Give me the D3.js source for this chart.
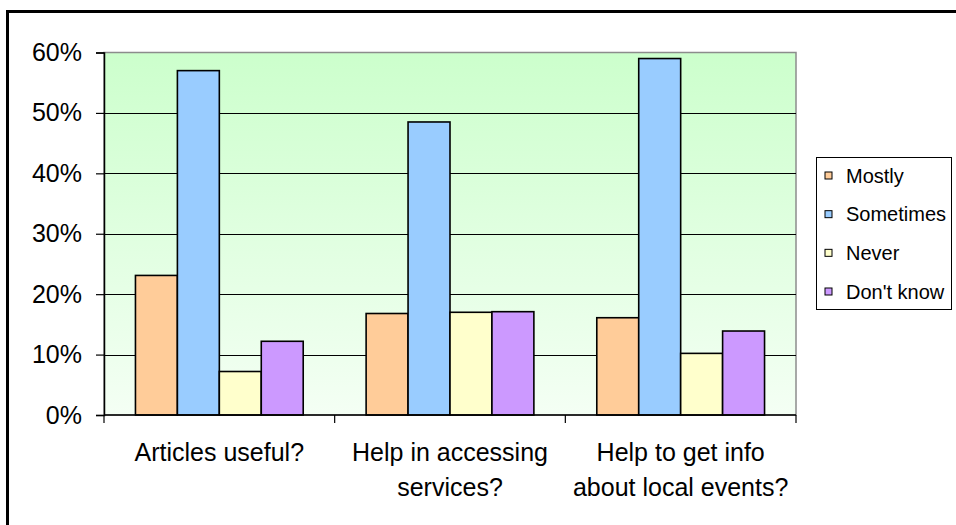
<!DOCTYPE html>
<html>
<head>
<meta charset="utf-8">
<script src="https://cdn.jsdelivr.net/npm/d3@7/dist/d3.min.js"></script>
<style>
  html, body { margin: 0; padding: 0; background: #ffffff; }
  svg { display: block; font-family: "Liberation Sans", Arial, sans-serif; }
</style>
</head>
<body>
<svg id="chart" width="956" height="525"></svg>
<script>
// Survey questions (category axis) and response options (series)
const questions = [
  ["Articles useful?"],
  ["Help in accessing", "services?"],
  ["Help to get info", "about local events?"]
];
const responses = ["Mostly", "Sometimes", "Never", "Don't know"];

// Share of respondents per response, one array per series (in question order)
const mostly    = [0.231, 0.168, 0.161];
const sometimes = [0.570, 0.485, 0.590];
const never     = [0.072, 0.170, 0.102];
const dontKnow  = [0.122, 0.171, 0.139];

const yTicks = [0, 0.1, 0.2, 0.3, 0.4, 0.5, 0.6];
const seriesColors = ["#ffcc99", "#99ccff", "#ffffcc", "#cc99ff"];

const seriesValues = [mostly, sometimes, never, dontKnow];

const svg = d3.select("#chart");

// Outer chart frame
svg.append("rect")
  .attr("x", 7.5).attr("y", 11.5)
  .attr("width", 1000).attr("height", 600)
  .attr("fill", "none").attr("stroke", "#000").attr("stroke-width", 3);

const plot = { left: 104, right: 796, top: 52.5, bottom: 415 };

const x0 = d3.scaleBand()
  .domain(d3.range(questions.length))
  .range([plot.left, plot.right])
  .padding(0);

// Bars occupy 4 of 5.5 bar-widths in each category (gap width 150%)
const bw = x0.bandwidth();
const gap = bw * 1.5 / 5.5;
const x1 = d3.scaleBand()
  .domain(responses)
  .range([gap / 2, bw - gap / 2])
  .padding(0);

const y = d3.scaleLinear()
  .domain([0, 0.6])
  .range([plot.bottom, plot.top]);

// Plot area gradient background
const defs = svg.append("defs");
const grad = defs.append("linearGradient")
  .attr("id", "plotBg").attr("x1", 0).attr("y1", 0).attr("x2", 0).attr("y2", 1);
grad.append("stop").attr("offset", "0%").attr("stop-color", "#ccffcc");
grad.append("stop").attr("offset", "100%").attr("stop-color", "#f4fff4");

svg.append("rect")
  .attr("x", plot.left).attr("y", plot.top)
  .attr("width", plot.right - plot.left).attr("height", plot.bottom - plot.top)
  .attr("fill", "url(#plotBg)")
  .attr("stroke", "#8c8c8c").attr("stroke-width", 1.5);

// Horizontal gridlines
svg.append("g")
  .selectAll("line")
  .data(yTicks.filter(t => t > 0 && t < 0.6))
  .join("line")
  .attr("x1", plot.left).attr("x2", plot.right)
  .attr("y1", d => Math.round(y(d)) + 0.5).attr("y2", d => Math.round(y(d)) + 0.5)
  .attr("stroke", "#000").attr("stroke-width", 1);

// Bars
const groups = svg.append("g")
  .selectAll("g")
  .data(questions.map((q, i) => i))
  .join("g")
  .attr("transform", i => `translate(${x0(i)},0)`);

groups.selectAll("rect")
  .data(i => responses.map((r, s) => ({ r, s, v: seriesValues[s][i] })))
  .join("rect")
  .attr("x", d => x1(d.r))
  .attr("y", d => y(d.v))
  .attr("width", x1.bandwidth())
  .attr("height", d => y(0) - y(d.v))
  .attr("fill", d => seriesColors[d.s])
  .attr("stroke", "#000")
  .attr("stroke-width", 1.6);

// Y axis
const yAxis = d3.axisLeft(y)
  .tickValues(yTicks)
  .tickFormat(d3.format(".0%"))
  .tickSize(8)
  .tickPadding(14);

const ya = svg.append("g")
  .attr("transform", `translate(${plot.left},0)`)
  .call(yAxis);
ya.select(".domain").attr("stroke", "#000").attr("stroke-width", 1.5);
ya.selectAll(".tick line").attr("stroke", "#000").attr("stroke-width", 1.2);
ya.selectAll(".tick text")
  .attr("font-size", 25)
  .attr("font-family", "Liberation Sans, Arial, sans-serif")
  .attr("fill", "#000");

// X axis (tick marks at category boundaries)
const xa = svg.append("g");
xa.append("line")
  .attr("x1", plot.left).attr("x2", plot.right)
  .attr("y1", plot.bottom).attr("y2", plot.bottom)
  .attr("stroke", "#000").attr("stroke-width", 1.5);
xa.selectAll("line.tick")
  .data(d3.range(questions.length + 1))
  .join("line")
  .attr("class", "tick")
  .attr("x1", i => i < questions.length ? x0(i) : plot.right)
  .attr("x2", i => i < questions.length ? x0(i) : plot.right)
  .attr("y1", plot.bottom).attr("y2", plot.bottom + 8)
  .attr("stroke", "#000").attr("stroke-width", 1.2);

// Category labels
const labels = svg.append("g")
  .selectAll("text")
  .data(questions.map((q, i) => ({ q, i })))
  .join("text")
  .attr("text-anchor", "middle")
  .attr("font-size", 25)
  .attr("fill", "#000");
labels.selectAll("tspan")
  .data(d => d.q.map((line, k) => ({ line, k, i: d.i })))
  .join("tspan")
  .attr("x", d => x0(d.i) + bw / 2)
  .attr("y", d => 461 + d.k * 35)
  .text(d => d.line);

// Legend
const legend = svg.append("g");
legend.append("rect")
  .attr("x", 816.5).attr("y", 157.5)
  .attr("width", 135).attr("height", 152)
  .attr("fill", "#fff").attr("stroke", "#000").attr("stroke-width", 1);

const rowY = d3.scalePoint().domain(responses).range([175.5, 291.5]);
const items = legend.selectAll("g.item")
  .data(responses.map((r, s) => ({ r, s })))
  .join("g")
  .attr("class", "item")
  .attr("transform", d => `translate(0,${rowY(d.r)})`);
items.append("rect")
  .attr("x", 825).attr("y", -3.5)
  .attr("width", 7).attr("height", 7)
  .attr("fill", d => seriesColors[d.s])
  .attr("stroke", "#000").attr("stroke-width", 1);
items.append("text")
  .attr("x", 846).attr("y", 7)
  .attr("font-size", 20)
  .attr("fill", "#000")
  .text(d => d.r);
</script>
</body>
</html>
